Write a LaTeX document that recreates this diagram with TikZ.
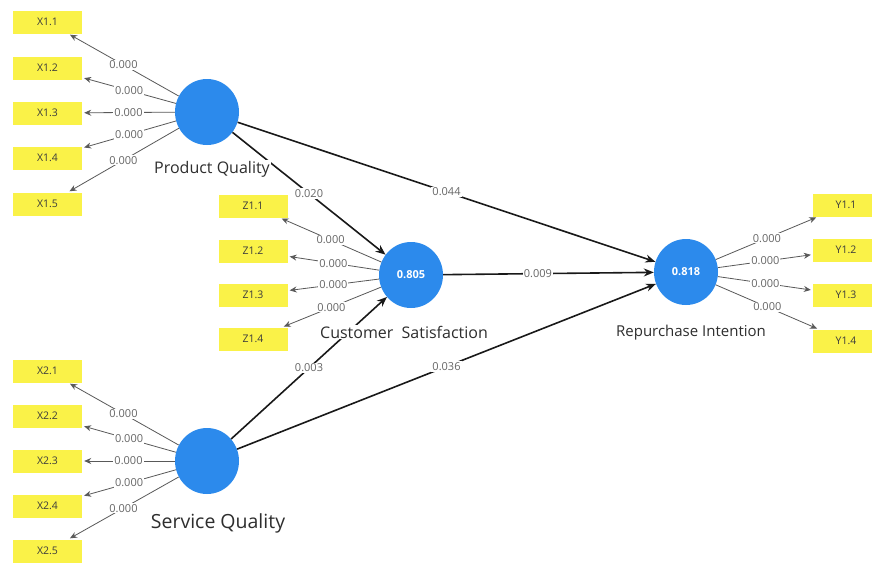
\documentclass[tikz,border=0pt]{standalone}
\usepackage{fontspec}
\setmainfont{Open Sans}
\usetikzlibrary{arrows.meta,shapes.geometric}
\definecolor{lvblue}{RGB}{44,138,236}
\definecolor{indyellow}{RGB}{250,242,72}
\definecolor{inktext}{RGB}{60,60,60}
\tikzset{
  latent/.style={ellipse,fill=lvblue,minimum width=64pt,minimum height=66pt,inner sep=0pt,
    text=white,font=\fontsize{11}{12}\selectfont\bfseries},
  indicator/.style={rectangle,fill=indyellow,minimum width=69pt,minimum height=23pt,inner sep=0pt,
    text=inktext,font=\fontsize{10.5}{11}\selectfont},
  loading/.style={draw=black!65,line width=0.8pt,-{Stealth[length=7pt,width=6pt]},shorten >=2pt},
  structural/.style={draw=black!90,line width=1.6pt,-{Stealth[length=10pt,width=8pt]}},
  weight/.style={fill=white,inner sep=1pt,text=black!60,font=\fontsize{11}{12}\selectfont},
  lvname/.style={fill=white,inner sep=1pt,text=black!82},
}
\begin{document}
\begin{tikzpicture}[x=1pt,y=-1pt]
\clip (0,0) rectangle (872,562);
\fill[white] (0,0) rectangle (872,562);

% latent variables
\node[latent] (PQ) at (207,112) {};
\node[latent] (SQ) at (207,461) {};
\node[latent] (CS) at (411,275) {0.805};
\node[latent] (RI) at (686,272) {0.818};

% indicators of Product Quality
\foreach \k/\y in {1/22,2/68,3/113,4/158,5/204}
  \node[indicator] (X1\k) at (47.5,\y) {X1.\k};
% indicators of Service Quality
\foreach \k/\y in {1/371,2/416,3/461,4/506,5/551}
  \node[indicator] (X2\k) at (47.5,\y) {X2.\k};
% indicators of Customer Satisfaction
\foreach \k/\y in {1/206,2/251,3/295,4/339}
  \node[indicator] (Z1\k) at (253,\y) {Z1.\k};
% indicators of Repurchase Intention
\foreach \k/\y in {1/205,2/250,3/295,4/341}
  \node[indicator,minimum width=66pt] (Y1\k) at (846,\y) {Y1.\k};

% outer loadings
\foreach \k in {1,...,5}{
  \draw[loading] (PQ) -- node[weight] {0.000} (X1\k);
  \draw[loading] (SQ) -- node[weight] {0.000} (X2\k);
}
\foreach \k in {1,...,4}{
  \draw[loading] (CS) -- node[weight] {0.000} (Z1\k);
  \draw[loading] (RI) -- node[weight] {0.000} (Y1\k);
}

% structural paths
\draw[structural] (PQ) -- node[weight] {0.020} (CS);
\draw[structural] (PQ) -- node[weight] {0.044} (RI);
\draw[structural] (CS) -- node[weight,pos=0.45] {0.009} (RI);
\draw[structural] (SQ) -- node[weight] {0.003} (CS);
\draw[structural] (SQ) -- node[weight] {0.036} (RI);

% construct names
\node[lvname,font=\fontsize{16}{17}\selectfont] (PQname) at (212,169) {Product Quality};
\node[lvname,font=\fontsize{19.5}{21}\selectfont] (SQname) at (218,523) {Service Quality};
\node[lvname,font=\fontsize{16}{17}\selectfont] (CSname) at (404,332) {Customer\ \ Satisfaction};
\node[lvname,font=\fontsize{15}{16}\selectfont] (RIname) at (691,333) {Repurchase Intention};
\end{tikzpicture}
\end{document}
